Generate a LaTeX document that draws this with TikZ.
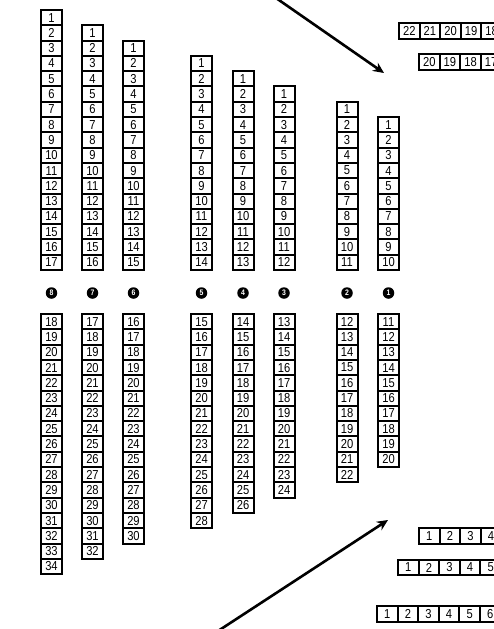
\documentclass[tikz,border=0pt]{standalone}
\usepackage{fontspec}
\setmainfont{Liberation Sans}[FakeStretch=0.86]
\usepackage{tikz}
\usetikzlibrary{arrows.meta}
\tikzset{
  seat/.style={draw,line width=2pt,minimum width=21pt,minimum height=15.3pt,inner sep=0pt,
    font=\fontsize{13}{13}\selectfont},
  rowseat/.style={seat,minimum width=20.6pt},
  blocklab/.style={circle,fill=black,text=white,minimum size=11.5pt,inner sep=0pt,
    font=\fontsize{8}{8}\selectfont\bfseries},
  pointer/.style={line width=2.6pt,-{Stealth[length=11pt,width=10pt]}}
}

\begin{document}
\begin{tikzpicture}[x=1pt,y=-1pt]
  \useasboundingbox (0,0) rectangle (494,629);
  \clip (0,0) rectangle (494,629);
  % blocks 8 .. 1, upper and lower half
  \foreach \c/\x/\n in {8/51.5/17,7/92.5/16,6/133.5/15,5/201.5/14,4/243/13,3/284/12,2/347/11,1/388.5/10}{
    \foreach \i in {1,...,\n}
      \node[seat] (t\c-\i) at (\x,{270-(\n-\i+0.5)*15.3}) {\i};
    \node[blocklab] (lab\c) at (\x,293) {\c};
    \foreach \j [evaluate=\j as \s using int(\n+\j)] in {1,...,\n}
      \node[seat] (b\c-\j) at (\x,{314+(\j-0.5)*15.3}) {\s};
  }
  % side rows, top right
  \foreach \k [evaluate=\k as \s using int(22-\k)] in {0,...,4}
    \node[rowseat] (ra-\k) at ({409.3+20.6*\k},31) {\s};
  \foreach \k [evaluate=\k as \s using int(20-\k)] in {0,...,3}
    \node[rowseat] (rb-\k) at ({429.3+20.6*\k},62) {\s};
  % side rows, bottom right
  \foreach \k [evaluate=\k as \s using int(\k+1)] in {0,...,3}
    \node[rowseat] (rc-\k) at ({429.3+20.6*\k},536) {\s};
  \foreach \k [evaluate=\k as \s using int(\k+1)] in {0,...,4}
    \node[rowseat] (rd-\k) at ({408.3+20.6*\k},567.5) {\s};
  \foreach \k [evaluate=\k as \s using int(\k+1)] in {0,...,5}
    \node[rowseat] (re-\k) at ({387.3+20.6*\k},614) {\s};
  % arrows
  \coordinate (topin) at (276,-2); \coordinate (toptip) at (384,73);
  \coordinate (botin) at (218,631); \coordinate (bottip) at (388,520);
  \draw[pointer] (topin) -- (toptip);
  \draw[pointer] (botin) -- (bottip);
\end{tikzpicture}
\end{document}
